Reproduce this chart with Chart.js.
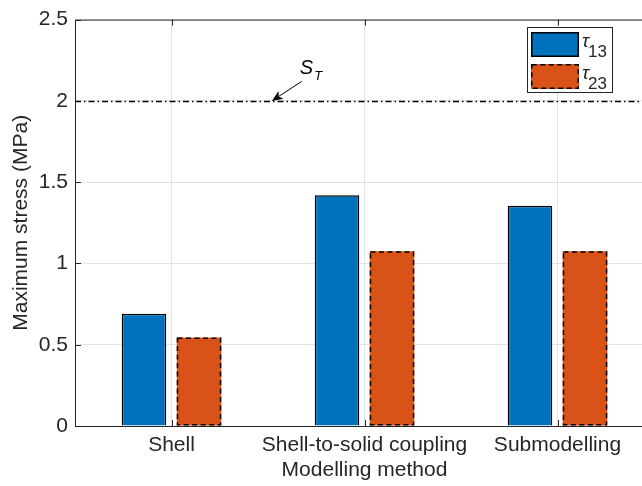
<!DOCTYPE html>
<html><head><meta charset="utf-8">
<script src="https://cdn.jsdelivr.net/npm/chart.js@4.4.1/dist/chart.umd.min.js"></script>
<style>
html,body{margin:0;padding:0;background:#fff;overflow:hidden;}
#wrap{width:642px;height:486px;overflow:hidden;position:relative;background:#fff;}
canvas{display:block;}
</style></head><body>
<div id="wrap"><canvas id="c" width="660" height="486"></canvas></div>
<script>
// ---- data ----
const categories = ['Shell', 'Shell-to-solid coupling', 'Submodelling'];
const tau13 = [0.69, 1.42, 1.355];
const tau23 = [0.545, 1.075, 1.075];
const seriesNames = [['\u03C4', '13'], ['\u03C4', '23']];
const yTicks = [0, 0.5, 1, 1.5, 2, 2.5];
const strengthST = 2;            // S_T reference line value
const annotTail = [0.675, 2.12]; // arrow tail (category units, MPa)
const annotTip = [0.52, 2.0];    // arrow tip
const annotText = [0.665, 2.165];

const FONT = '"Liberation Sans", Arial, Helvetica, sans-serif';
const AX = '#262626';
const BLUE = '#0072BD', ORANGE = '#D95319';

function catPx(x, k) {
  const p0 = x.getPixelForValue(0), p1 = x.getPixelForValue(1);
  return p0 + k * (p1 - p0);
}

const deco = {
  id: 'deco',
  afterDatasetsDraw(chart) {
    const {ctx, chartArea: a, scales: {x, y}} = chart;
    ctx.save();
    // dashed borders for tau23 bars
    const meta = chart.getDatasetMeta(1);
    ctx.strokeStyle = '#000'; ctx.lineWidth = 1.5; ctx.setLineDash([5, 3.5]);
    meta.data.forEach(b => {
      const p = b.getProps(['x', 'y', 'base', 'width'], true);
      ctx.strokeRect(p.x - p.width / 2 + 0.75, p.y + 0.75, p.width - 1.5, p.base - p.y - 1.5);
    });
    ctx.setLineDash([]);
    // axes box
    ctx.strokeStyle = AX; ctx.lineWidth = 1;
    ctx.beginPath();
    ctx.moveTo(a.left + 0.5, a.top + 0.5); ctx.lineTo(a.left + 0.5, a.bottom + 0.5);
    ctx.moveTo(a.left, a.bottom + 0.5); ctx.lineTo(a.right, a.bottom + 0.5);
    ctx.moveTo(a.left, a.top + 0.5); ctx.lineTo(a.right, a.top + 0.5);
    // inward ticks
    yTicks.forEach(v => {
      const py = Math.round(y.getPixelForValue(v)) + 0.5;
      ctx.moveTo(a.left, py); ctx.lineTo(a.left + 6, py);
    });
    categories.forEach((c, i) => {
      const px = Math.round(x.getPixelForValue(i)) + 0.5;
      ctx.moveTo(px, a.bottom); ctx.lineTo(px, a.bottom - 6);
      ctx.moveTo(px, a.top); ctx.lineTo(px, a.top + 6);
    });
    ctx.stroke();
    // S_T dash-dot line
    const yS = Math.round(y.getPixelForValue(strengthST)) + 0.5;
    ctx.strokeStyle = '#000'; ctx.lineWidth = 1.5; ctx.setLineDash([6, 3, 1.5, 3]);
    ctx.beginPath(); ctx.moveTo(a.left, yS); ctx.lineTo(a.right, yS); ctx.stroke();
    ctx.setLineDash([]);
    // arrow
    const tx = catPx(x, annotTail[0]), ty = y.getPixelForValue(annotTail[1]);
    const hx = catPx(x, annotTip[0]), hy = y.getPixelForValue(annotTip[1]);
    const ang = Math.atan2(hy - ty, hx - tx);
    const L = 11, W = 4.5;
    const bx = hx - L * Math.cos(ang), by = hy - L * Math.sin(ang);
    ctx.lineWidth = 1; ctx.strokeStyle = '#000'; ctx.fillStyle = '#000';
    ctx.beginPath(); ctx.moveTo(tx, ty); ctx.lineTo(bx + 3 * Math.cos(ang), by + 3 * Math.sin(ang)); ctx.stroke();
    const nx = -Math.sin(ang), ny = Math.cos(ang);
    ctx.beginPath();
    ctx.moveTo(hx, hy);
    ctx.lineTo(bx + nx * W, by + ny * W);
    ctx.lineTo(bx + 3 * Math.cos(ang), by + 3 * Math.sin(ang));
    ctx.lineTo(bx - nx * W, by - ny * W);
    ctx.closePath(); ctx.fill();
    // S_T text
    const sx = catPx(x, annotText[0]), sy = y.getPixelForValue(annotText[1]);
    ctx.textBaseline = 'alphabetic'; ctx.textAlign = 'left';
    ctx.font = 'italic 20px ' + FONT;
    ctx.fillText('S', sx, sy);
    const sw = ctx.measureText('S').width;
    ctx.font = 'italic 13px ' + FONT;
    ctx.fillText('T', sx + sw + 1, sy + 6);
    ctx.restore();
  },
  afterDraw(chart) {
    const ctx = chart.ctx;
    ctx.save();
    // legend box
    const L = 527, T = 27, R = 613, B = 93;
    ctx.fillStyle = '#fff'; ctx.fillRect(L, T, R - L, B - T);
    ctx.strokeStyle = AX; ctx.lineWidth = 1;
    ctx.strokeRect(L + 0.5, T + 0.5, R - L - 1, B - T - 1);
    const rows = [{c: BLUE, dash: false, y: 32}, {c: ORANGE, dash: true, y: 64}];
    rows.forEach((r, i) => {
      ctx.fillStyle = r.c;
      ctx.fillRect(531, r.y, 48, 25);
      ctx.strokeStyle = '#000'; ctx.lineWidth = 1.5;
      ctx.setLineDash(r.dash ? [5, 3.5] : []);
      ctx.strokeRect(531.75, r.y + 0.75, 46.5, 23.5);
      ctx.setLineDash([]);
      ctx.fillStyle = AX; ctx.textAlign = 'left'; ctx.textBaseline = 'alphabetic';
      ctx.font = 'italic 19px ' + FONT;
      ctx.fillText(seriesNames[i][0], 582, r.y + 15);
      const w = ctx.measureText(seriesNames[i][0]).width;
      ctx.font = '17px ' + FONT;
      ctx.fillText(seriesNames[i][1], 582 + w - 1, r.y + 25);
    });
    ctx.restore();
  }
};

new Chart(document.getElementById('c'), {
  type: 'bar',
  data: {
    labels: categories,
    datasets: [
      {label: 'tau13', data: tau13, backgroundColor: BLUE, borderColor: '#000', borderWidth: 1.5,
       categoryPercentage: 0.57, barPercentage: 0.81},
      {label: 'tau23', data: tau23, backgroundColor: ORANGE, borderWidth: 0,
       categoryPercentage: 0.57, barPercentage: 0.81}
    ]
  },
  options: {
    responsive: false, animation: false,
    layout: {padding: {top: 18, right: 6, left: 0, bottom: 0}},
    plugins: {legend: {display: false}, tooltip: {enabled: false}},
    scales: {
      x: {
        offset: true,
        grid: {offset: false, color: '#e3e3e3', drawTicks: false},
        border: {display: false},
        ticks: {font: {family: FONT, size: 21}, color: AX, padding: 7, maxRotation: 0, autoSkip: false},
        title: {display: true, text: 'Modelling method', font: {family: FONT, size: 21}, color: AX,
                padding: {top: 0, bottom: 3}},
        afterFit: s => { s.height = 60; }
      },
      y: {
        min: 0, max: 2.5,
        afterBuildTicks: s => { s.ticks = yTicks.map(v => ({value: v})); },
        grid: {color: '#e3e3e3', drawTicks: false},
        border: {display: false},
        ticks: {font: {family: FONT, size: 21}, color: AX, padding: 7, callback: v => String(v)},
        title: {display: true, text: 'Maximum stress (MPa)', font: {family: FONT, size: 21}, color: AX,
                padding: {top: 9, bottom: 0}},
        afterFit: s => { s.width = 75; }
      }
    }
  },
  plugins: [deco]
});
</script>
</body></html>
